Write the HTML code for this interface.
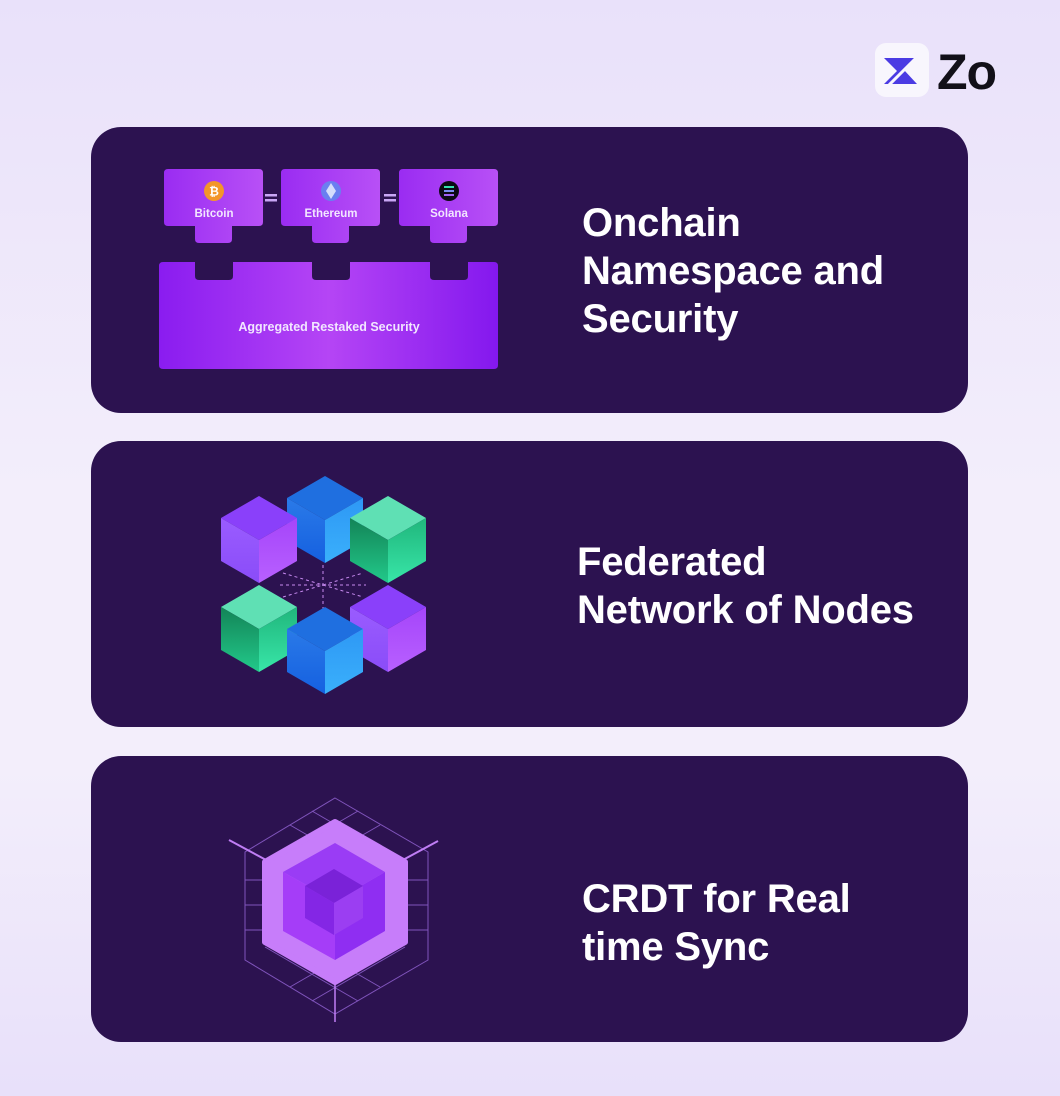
<!DOCTYPE html>
<html><head><meta charset="utf-8"><style>
html,body{margin:0;padding:0}
body{width:1060px;height:1096px;position:relative;overflow:hidden;font-family:"Liberation Sans",sans-serif;
background:linear-gradient(180deg,#e9e1fa 0%,#f3eefb 45%,#f3eefb 70%,#e8e0fa 100%);}
.card{position:absolute;left:91px;width:877px;height:286px;border-radius:30px;background:#2c1250}
.t{position:absolute;color:#fff;font-weight:bold;font-size:40px;line-height:48px;letter-spacing:-0.2px}
svg{position:absolute;left:0;top:0}
</style></head><body>
<div class="card" style="top:127px"></div>
<div class="card" style="top:441px"></div>
<div class="card" style="top:756px"></div>

<div class="t" style="left:582px;top:199px">Onchain<br>Namespace and<br>Security</div>
<div class="t" style="left:577px;top:538px">Federated<br>Network of Nodes</div>
<div class="t" style="left:582px;top:875px">CRDT for Real<br>time Sync</div>

<div style="position:absolute;left:875px;top:43px;width:54px;height:54px;border-radius:11px;background:#f8f6fd"></div>
<div style="position:absolute;left:937px;top:44px;font-size:50px;font-weight:bold;color:#121018;line-height:56px;letter-spacing:-1px">Zo</div>

<svg width="1060" height="1096" viewBox="0 0 1060 1096">
<defs>
<linearGradient id="pb" x1="0" x2="1"><stop offset="0" stop-color="#8a1cf0"/><stop offset="0.5" stop-color="#b545f5"/><stop offset="1" stop-color="#8418ee"/></linearGradient>
<linearGradient id="pt" x1="0" x2="1"><stop offset="0" stop-color="#9a2cf2"/><stop offset="1" stop-color="#b850f6"/></linearGradient>
<linearGradient id="bl" x1="0" y1="0" x2="0" y2="1"><stop offset="0" stop-color="#2a7ae8"/><stop offset="1" stop-color="#1560e0"/></linearGradient>
<linearGradient id="br" x1="0" y1="0" x2="0" y2="1"><stop offset="0" stop-color="#2e98f5"/><stop offset="1" stop-color="#3ab0fb"/></linearGradient>
<linearGradient id="gl" x1="0" y1="0" x2="0" y2="1"><stop offset="0" stop-color="#138457"/><stop offset="1" stop-color="#22c98a"/></linearGradient>
<linearGradient id="gr" x1="0" y1="0" x2="0" y2="1"><stop offset="0" stop-color="#20b67c"/><stop offset="1" stop-color="#38e6a8"/></linearGradient>
<linearGradient id="vl" x1="0" y1="0" x2="0" y2="1"><stop offset="0" stop-color="#9a5cff"/><stop offset="1" stop-color="#8a4cf8"/></linearGradient>
<linearGradient id="vr" x1="0" y1="0" x2="0" y2="1"><stop offset="0" stop-color="#a545fa"/><stop offset="1" stop-color="#b860ff"/></linearGradient>
</defs>

<!-- logo Z -->
<polygon points="884,58 916,58 904,70 917,84 884,84 897,71" fill="#4b3be3"/>
<line x1="918" y1="56" x2="886" y2="88" stroke="#f8f6fd" stroke-width="3"/>

<!-- card1 diagram -->
<g fill="url(#pt)">
<path d="M168,169 H259 Q263,169 263,173 V222 Q263,226 259,226 H232 V239 Q232,243 228,243 H199 Q195,243 195,239 V226 H168 Q164,226 164,222 V173 Q164,169 168,169Z"/>
<path d="M285,169 H376 Q380,169 380,173 V222 Q380,226 376,226 H349 V239 Q349,243 345,243 H316 Q312,243 312,239 V226 H285 Q281,226 281,222 V173 Q281,169 285,169Z"/>
<path d="M403,169 H494 Q498,169 498,173 V222 Q498,226 494,226 H467 V239 Q467,243 463,243 H434 Q430,243 430,239 V226 H403 Q399,226 399,222 V173 Q399,169 403,169Z"/>
</g>
<path fill="url(#pb)" d="M163,262 H195 V276 Q195,280 199,280 H229 Q233,280 233,276 V262 H312 V276 Q312,280 316,280 H346 Q350,280 350,276 V262 H430 V276 Q430,280 434,280 H464 Q468,280 468,276 V262 H494 Q498,262 498,266 V365 Q498,369 494,369 H163 Q159,369 159,365 V266 Q159,262 163,262Z"/>
<g fill="#c9a6f5"><rect x="265" y="194" width="12" height="2.5"/><rect x="265" y="199" width="12" height="2.5"/><rect x="384" y="194" width="12" height="2.5"/><rect x="384" y="199" width="12" height="2.5"/></g>
<circle cx="214" cy="191" r="10" fill="#f3962a"/><text x="214" y="195.5" font-size="12" font-weight="bold" fill="#fff" text-anchor="middle" font-family="Liberation Sans">₿</text>
<circle cx="331" cy="191" r="10" fill="#6a7ff0"/><polygon points="331,183 336,191 331,199 326,191" fill="#d6defc"/>
<circle cx="449" cy="191" r="10" fill="#0c0a14"/><g stroke="#35e0b0" stroke-width="2"><line x1="444" y1="187" x2="454" y2="187"/><line x1="444" y1="191" x2="454" y2="191" stroke="#7a8cf0"/><line x1="444" y1="195" x2="454" y2="195" stroke="#a060f0"/></g>
<g font-family="Liberation Sans" font-weight="bold" font-size="11.5" fill="#f2e6ff" text-anchor="middle">
<text x="214" y="217">Bitcoin</text><text x="331" y="217">Ethereum</text><text x="449" y="217">Solana</text>
<text x="329" y="331" font-size="12.5">Aggregated Restaked Security</text></g>

<!-- card2 cubes -->
<g stroke="#c78af0" stroke-width="1" stroke-dasharray="3,3" fill="none">
<line x1="323" y1="565" x2="323" y2="610"/><line x1="283" y1="573" x2="363" y2="597"/><line x1="283" y1="597" x2="363" y2="573"/><line x1="280" y1="585" x2="366" y2="585"/>
</g>
<g>
<polygon points="325,476 363,498 325,520 287,498" fill="#1f6fe0"/><polygon points="287,498 325,520 325,563 287,541" fill="url(#bl)"/><polygon points="325,520 363,498 363,541 325,563" fill="url(#br)"/>
<polygon points="259,496 297,518 259,540 221,518" fill="#8a40fa"/><polygon points="221,518 259,540 259,583 221,561" fill="url(#vl)"/><polygon points="259,540 297,518 297,561 259,583" fill="url(#vr)"/>
<polygon points="388,496 426,518 388,540 350,518" fill="#5fe0b4"/><polygon points="350,518 388,540 388,583 350,561" fill="url(#gl)"/><polygon points="388,540 426,518 426,561 388,583" fill="url(#gr)"/>
<polygon points="259,585 297,607 259,629 221,607" fill="#5fe0b4"/><polygon points="221,607 259,629 259,672 221,650" fill="url(#gl)"/><polygon points="259,629 297,607 297,650 259,672" fill="url(#gr)"/>
<polygon points="388,585 426,607 388,629 350,607" fill="#8a40fa"/><polygon points="350,607 388,629 388,672 350,650" fill="url(#vl)"/><polygon points="388,629 426,607 426,650 388,672" fill="url(#vr)"/>
<polygon points="325,607 363,629 325,651 287,629" fill="#1f6fe0"/><polygon points="287,629 325,651 325,694 287,672" fill="url(#bl)"/><polygon points="325,651 363,629 363,672 325,694" fill="url(#br)"/>
</g>

<!-- card3 CRDT -->
<g stroke="#8a5cc8" stroke-width="1" fill="none" opacity="0.9">
<polygon points="335,798 428,852 428,960 335,1014 245,960 245,852"/>
<line x1="290" y1="825" x2="380" y2="877"/><line x1="380" y1="825" x2="290" y2="877"/>
<line x1="312" y1="811" x2="405" y2="865"/><line x1="358" y1="811" x2="265" y2="865"/>
<line x1="245" y1="880" x2="428" y2="880"/><line x1="245" y1="905" x2="428" y2="905"/><line x1="245" y1="930" x2="428" y2="930"/>
<line x1="290" y1="987" x2="380" y2="935"/><line x1="380" y1="987" x2="290" y2="935"/>
<line x1="312" y1="1001" x2="405" y2="947"/><line x1="358" y1="1001" x2="265" y2="947"/>
</g>
<g stroke="#c07ef5" stroke-width="2"><line x1="229" y1="840" x2="268" y2="861"/><line x1="438" y1="841" x2="401" y2="861"/><line x1="335" y1="980" x2="335" y2="1022" stroke-width="1.5"/></g>
<polygon points="335,822 405,862 405,942 335,982 265,942 265,862" fill="#c77dfa" stroke="#c77dfa" stroke-width="6" stroke-linejoin="round"/>
<polygon points="335,843 385,872 335,901 283,872" fill="#9a3cf5"/>
<polygon points="283,872 335,901 335,960 283,931" fill="#a53df8"/>
<polygon points="335,901 385,872 385,931 335,960" fill="#8f2ef2"/>
<polygon points="334,869 363,886 334,903 305,886" fill="#7a22d8"/>
<polygon points="305,886 334,903 334,935 305,918" fill="#8426e5"/>
<polygon points="334,903 363,886 363,918 334,935" fill="#9b3ef2"/>
</svg>
</body></html>
